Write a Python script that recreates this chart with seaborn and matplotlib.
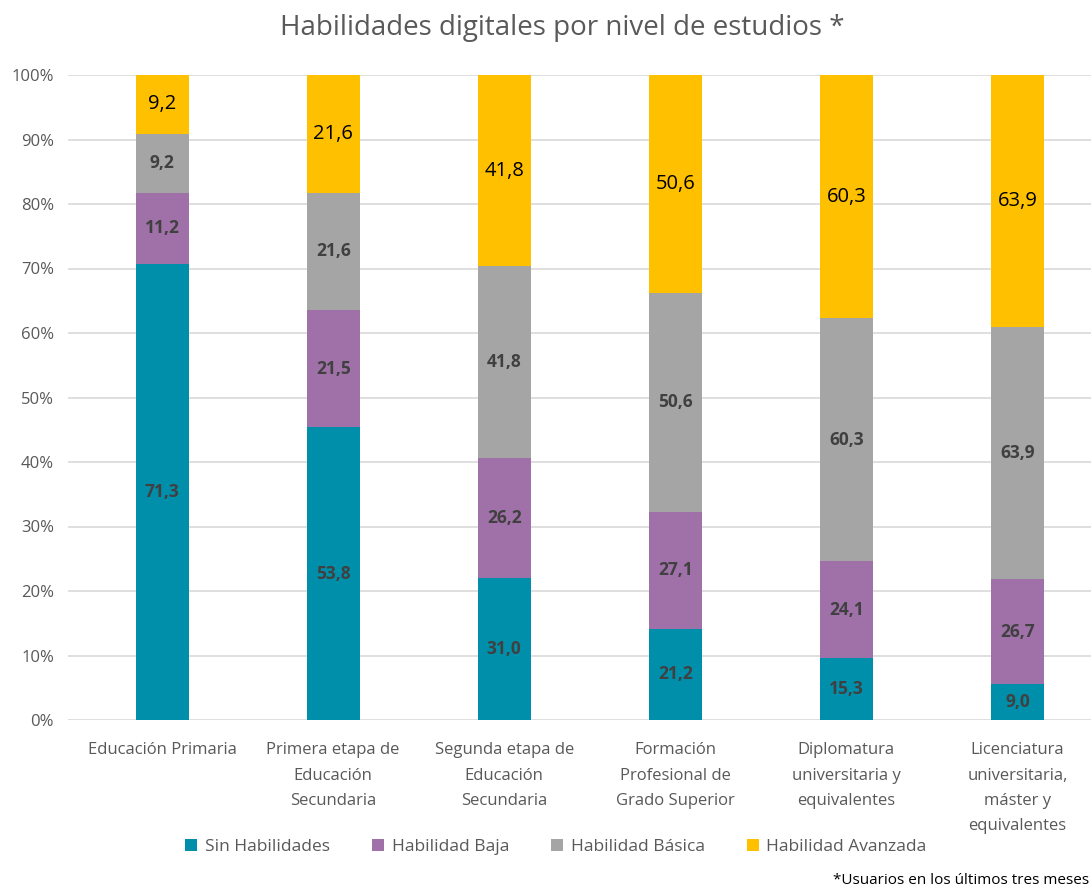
import numpy as np
import pandas as pd
import matplotlib
matplotlib.use("Agg")
import matplotlib.pyplot as plt
import seaborn as sns
from matplotlib.patches import Patch

niveles = ["Educación Primaria", "Primera etapa de\nEducación\nSecundaria",
           "Segunda etapa de\nEducación\nSecundaria", "Formación\nProfesional de\nGrado Superior",
           "Diplomatura\nuniversitaria y\nequivalentes",
           "Licenciatura\nuniversitaria,\nmáster y\nequivalentes"]
series = ["Sin Habilidades", "Habilidad Baja", "Habilidad Básica", "Habilidad Avanzada"]
sin_hab = [71.3, 53.8, 31.0, 21.2, 15.3, 9.0]
baja = [11.2, 21.5, 26.2, 27.1, 24.1, 26.7]
basica = [9.2, 21.6, 41.8, 50.6, 60.3, 63.9]
avanzada = [9.2, 21.6, 41.8, 50.6, 60.3, 63.9]
colores = ["#008FAA", "#A070A8", "#A5A5A5", "#FFC000"]

sns.set_style("white")
plt.rcParams["font.family"] = ["Open Sans", "DejaVu Sans"]

vals = np.array([sin_hab, baja, basica, avanzada])
pct = vals / vals.sum(axis=0) * 100
cum = np.cumsum(pct, axis=0)

fig = plt.figure(figsize=(10.91, 8.89), dpi=100)
ax = fig.add_axes([68 / 1091, 1 - 720 / 889, 1 - 68 / 1091, 645 / 889])

# draw cumulative bars from the top down so each one covers the next
for i in range(3, -1, -1):
    df = pd.DataFrame({"nivel": niveles, "valor": cum[i]})
    sns.barplot(data=df, x="nivel", y="valor", order=niveles, color=colores[i],
                width=0.31, saturation=1, ax=ax, zorder=3, linewidth=0)

for j in range(len(niveles)):
    for i in range(4):
        mid = cum[i, j] - pct[i, j] / 2
        txt = f"{vals[i, j]:.1f}".replace(".", ",")
        if i == 3:
            ax.text(j, mid, txt, ha="center", va="center", fontsize=14.5, color="black", zorder=5)
        else:
            ax.text(j, mid, txt, ha="center", va="center", fontsize=12.5,
                    fontweight="bold", color="#404040", zorder=5)

ax.set_ylim(0, 100)
ax.set_xlim(-0.55, 5.43)
ax.set_yticks(range(0, 101, 10))
ax.set_yticklabels([f"{v}%" for v in range(0, 101, 10)])
ax.yaxis.grid(True, color="#D9D9D9", linewidth=1.2, zorder=0)
ax.set_axisbelow(True)
for s in ax.spines.values():
    s.set_visible(False)
ax.tick_params(axis="both", length=0, labelsize=12, labelcolor="#595959")
ax.tick_params(axis="x", pad=16)
ax.tick_params(axis="y", pad=10)
ax.set_xlabel("")
ax.set_ylabel("")
for lbl in ax.get_xticklabels():
    lbl.set_va("top")
    lbl.set_linespacing(1.78)

fig.text(562 / 1091, 1 - 28 / 889, "Habilidades digitales por nivel de estudios *",
         ha="center", va="center", fontsize=20, color="#595959")

handles = [Patch(facecolor=c, edgecolor="none") for c in colores]
fig.legend(handles, series, loc="center", bbox_to_anchor=(556 / 1091, 1 - 847 / 889),
           ncol=4, frameon=False, fontsize=12.5, labelcolor="#595959",
           handlelength=0.7, handleheight=0.7, handletextpad=0.45, columnspacing=2.4)

fig.text(833 / 1091, 1 - 880 / 889, "*Usuarios en los últimos tres meses",
         ha="left", va="center", fontsize=11, color="black")

fig.savefig("out.png", dpi=100)
